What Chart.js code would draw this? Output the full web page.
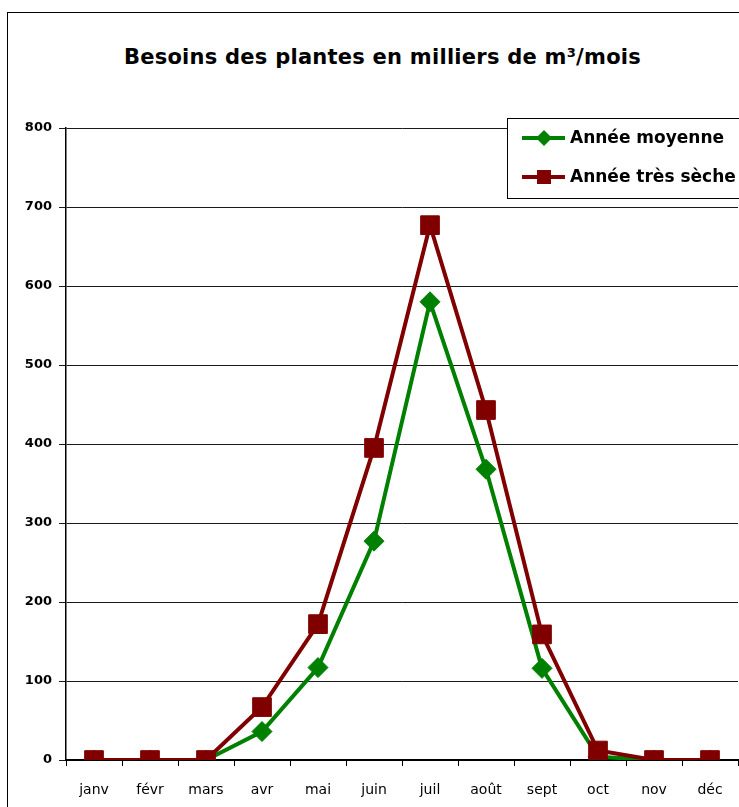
<!DOCTYPE html>
<html>
<head>
<meta charset="utf-8">
<script src="https://cdn.jsdelivr.net/npm/chart.js@4/dist/chart.umd.min.js"></script>
<style>
html,body{margin:0;padding:0;background:#fff;overflow:hidden;width:739px;height:807px;}
#frame{position:absolute;left:7px;top:12px;width:800px;height:900px;border-left:1.5px solid #000;border-top:1.5px solid #000;}
#title{position:absolute;left:7px;width:751px;top:44px;text-align:center;font:bold 21px "DejaVu Sans";letter-spacing:0.25px;color:#000;line-height:26px;}
#c{position:absolute;left:0;top:0;}
</style>
</head>
<body>
<div id="frame"></div>
<div id="title">Besoins des plantes en milliers de m³/mois</div>
<canvas id="c" width="739" height="807"></canvas>
<script>
const months = ['janv','févr','mars','avr','mai','juin','juil','août','sept','oct','nov','déc'];
const anneeMoyenne = [0,0,0,36,117,277,580,368,116,4,0,0];
const anneeTresSeche = [0,0,0,67,172,395,677,443,159,12,0,0];
const yTicks = [0,100,200,300,400,500,600,700,800];
const seriesNames = ['Année moyenne','Année très sèche'];

const GREEN = '#008000', RED = '#800000';

const legendPlugin = {
  id: 'customLegend',
  afterDraw(chart) {
    const ctx = chart.ctx;
    ctx.save();
    ctx.fillStyle = '#fff';
    ctx.fillRect(507, 118, 240, 80);
    ctx.strokeStyle = '#000';
    ctx.lineWidth = 1;
    ctx.strokeRect(507.5, 118.5, 240, 80);
    const rows = [
      {y: 138, color: GREEN, style: 'diamond', label: seriesNames[0]},
      {y: 177, color: RED, style: 'square', label: seriesNames[1]}
    ];
    rows.forEach(r => {
      ctx.strokeStyle = r.color;
      ctx.lineWidth = 4;
      ctx.beginPath();
      ctx.moveTo(522, r.y); ctx.lineTo(565, r.y); ctx.stroke();
      ctx.fillStyle = r.color;
      ctx.beginPath();
      if (r.style === 'diamond') {
        ctx.moveTo(544, r.y - 8); ctx.lineTo(552, r.y); ctx.lineTo(544, r.y + 8); ctx.lineTo(536, r.y);
      } else {
        ctx.rect(537, r.y - 7, 14, 14);
      }
      ctx.closePath(); ctx.fill();
      ctx.fillStyle = '#000';
      ctx.font = 'bold 17px "DejaVu Sans"';
      ctx.textBaseline = 'middle';
      ctx.fillText(r.label, 570, r.y + 1);
    });
    ctx.restore();
  }
};

new Chart(document.getElementById('c'), {
  type: 'line',
  data: {
    labels: months,
    datasets: [
      {
        label: seriesNames[0], data: anneeMoyenne,
        borderColor: GREEN, backgroundColor: GREEN, borderWidth: 4,
        pointStyle: 'rectRot', pointRadius: 10, pointBorderWidth: 1,
        pointBackgroundColor: GREEN, pointBorderColor: GREEN,
        tension: 0, order: 1
      },
      {
        label: seriesNames[1], data: anneeTresSeche,
        borderColor: RED, backgroundColor: RED, borderWidth: 4,
        pointStyle: 'rect', pointRadius: 13.2, pointBorderWidth: 1,
        pointBackgroundColor: RED, pointBorderColor: RED,
        tension: 0, order: 0
      }
    ]
  },
  options: {
    responsive: false,
    animation: false,
    layout: {autoPadding: false, padding: {left: 0, top: 128, right: 1, bottom: 0}},
    plugins: {legend: {display: false}, title: {display: false}, tooltip: {enabled: false}},
    scales: {
      x: {
        offset: true,
        grid: {offset: true, drawOnChartArea: false, drawTicks: true, tickLength: 6, color: '#000', lineWidth: 1},
        border: {display: true, color: '#000', width: 2},
        ticks: {color: '#000', font: {family: 'DejaVu Sans', size: 14}, padding: 16, maxRotation: 0, autoSkip: false},
        afterFit(s) { s.height = 47; s.paddingLeft = 0; s.paddingRight = 0; }
      },
      y: {
        min: 0, max: 800,
        afterBuildTicks(s) { s.ticks = yTicks.map(v => ({value: v})); },
        grid: {color: '#1a1a1a', lineWidth: 1, drawTicks: true, tickLength: 7},
        border: {display: true, color: '#000', width: 1.5},
        ticks: {color: '#000', font: {family: 'DejaVu Sans', size: 13, weight: 'bold'}, padding: 7},
        afterFit(s) { s.width = 66; s.paddingTop = 0; s.paddingBottom = 0; }
      }
    }
  },
  plugins: [legendPlugin]
});
</script>
</body>
</html>
